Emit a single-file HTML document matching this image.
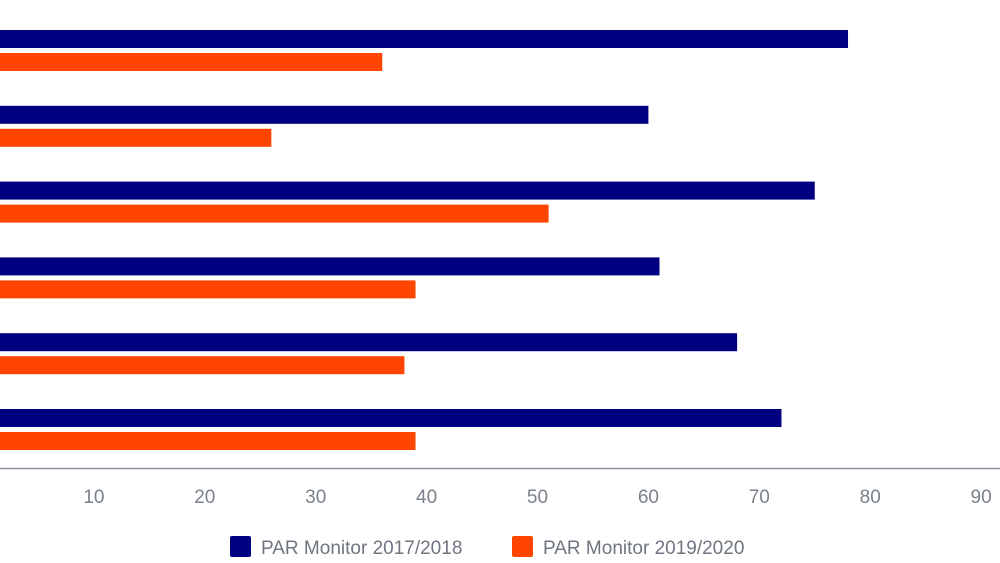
<!DOCTYPE html>
<html><head><meta charset="utf-8"><style>
html,body{margin:0;padding:0;background:#fff;width:1000px;height:563px;overflow:hidden}
svg{display:block;font-family:"Liberation Sans",sans-serif}
</style></head><body>
<svg id="chart" width="1000" height="563">
<line x1="0" y1="468.5" x2="1000" y2="468.5" stroke="#8a9099" stroke-width="1.5"/>
<g id="bars"></g>
<g id="ticks"></g>
<g>
<g>
<rect x="230" y="536" width="21" height="21" rx="2" fill="#000080"/>
<text x="261" y="554" font-size="19" fill="#6f7680">PAR Monitor 2017/2018</text>
</g>
<g>
<rect x="512" y="536" width="21" height="21" rx="2" fill="#ff4500"/>
<text x="543" y="554" font-size="19" fill="#6f7680">PAR Monitor 2019/2020</text>
</g>
</g>
</svg>
<script>
const categories = ["c1","c2","c3","c4","c5","c6"];
const series2017 = [78,60,75,61,68,72];
const series2019 = [36,26,51,39,38,39];
const tickValues = [10,20,30,40,50,60,70,80,90];
const tickLabels = ["10","20","30","40","50","60","70","80","90"];
const NS="http://www.w3.org/2000/svg";
function xScale(v){return -17 + v*11.09;}
function yBand(i){return 30 + i*75.8;}
const bars=document.getElementById('bars');
categories.forEach((c,i)=>{
  const y=yBand(i);
  const a=document.createElementNS(NS,'rect');
  a.setAttribute('x',0);a.setAttribute('y',y);a.setAttribute('height',18);
  a.setAttribute('width',Math.max(0,xScale(series2017[i])));a.setAttribute('fill','#000080');
  
  
  bars.appendChild(a);
  const b=document.createElementNS(NS,'rect');
  b.setAttribute('x',0);b.setAttribute('y',y+23);b.setAttribute('height',18);
  b.setAttribute('width',Math.max(0,xScale(series2019[i])));b.setAttribute('fill','#ff4500');
  
  
  bars.appendChild(b);
});
const ticks=document.getElementById('ticks');
tickValues.forEach((v,i)=>{
  const t=document.createElementNS(NS,'text');
  t.setAttribute('x',xScale(v));t.setAttribute('y',503);
  t.setAttribute('text-anchor','middle');t.setAttribute('font-size','19');t.setAttribute('fill','#7a818a');
  t.textContent=tickLabels[i];
  
  
  ticks.appendChild(t);
});
</script>
</body></html>
